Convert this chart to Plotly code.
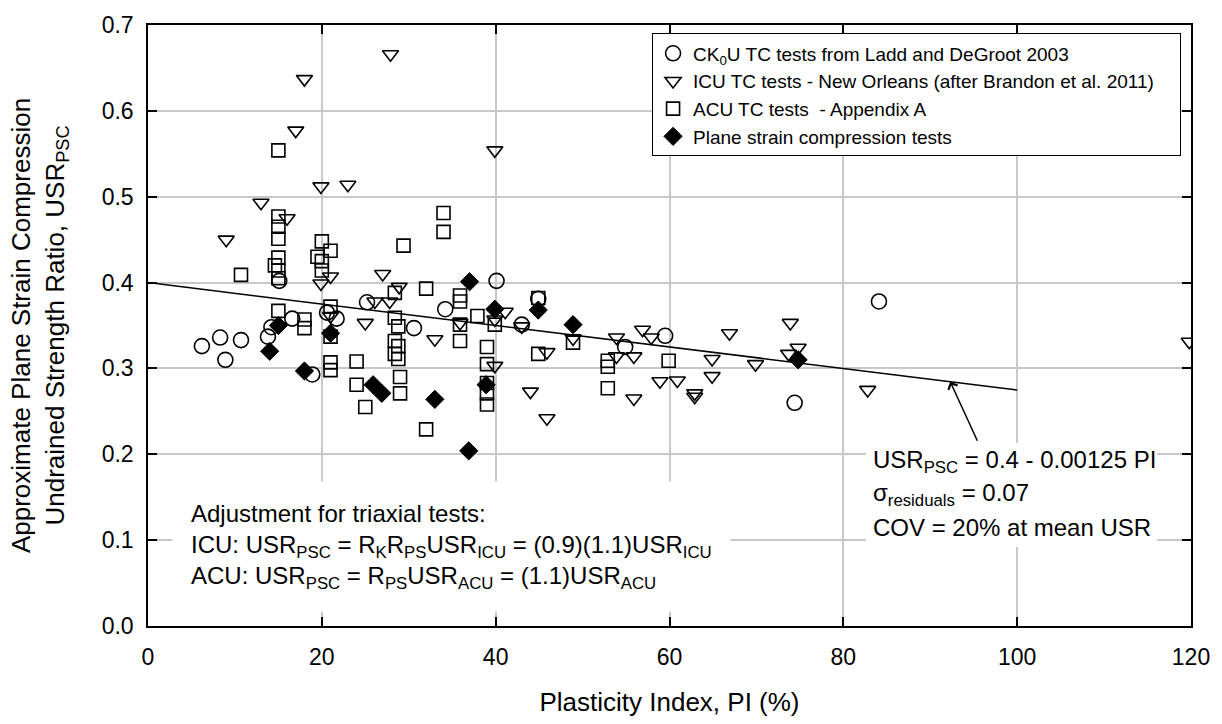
import plotly.graph_objects as go

# ---- data ----
# CK0U TC tests from Ladd and DeGroot 2003 (open circles)
ck0u_pi = [6.2, 8.3, 8.9, 10.7, 13.8, 14.2, 15.1, 16.6, 18.9, 20.6, 21.7, 25.2, 30.6, 34.2,
           40.1, 43.0, 44.9, 54.9, 59.5, 74.4, 84.1]
ck0u_usr = [0.326, 0.336, 0.310, 0.333, 0.337, 0.348, 0.402, 0.358, 0.293, 0.365, 0.358, 0.377, 0.347, 0.369,
            0.402, 0.351, 0.381, 0.325, 0.338, 0.260, 0.378]

# ICU TC tests - New Orleans (open down triangles)
icu_pi = [9.0, 13.0, 16.0, 17.0, 18.0, 19.9, 19.9, 21.0, 21.0, 23.0,
          25.0, 26.1, 27.0, 27.9, 27.8, 28.9, 33.0, 35.9, 39.9, 39.9,
          39.9, 41.1, 43.0, 44.0, 45.9, 45.9, 48.9, 53.9, 53.9, 55.9,
          55.9, 56.9, 57.9, 58.9, 60.9, 62.9, 62.9, 64.9, 64.9, 66.9,
          69.9, 73.7, 73.9, 74.8, 82.8, 119.8]
icu_usr = [0.450, 0.493, 0.475, 0.577, 0.637, 0.512, 0.399, 0.407, 0.361, 0.514,
           0.353, 0.378, 0.410, 0.666, 0.378, 0.395, 0.334, 0.353, 0.554, 0.357,
           0.303, 0.366, 0.349, 0.273, 0.319, 0.242, 0.335, 0.336, 0.314, 0.314,
           0.265, 0.345, 0.336, 0.285, 0.286, 0.271, 0.267, 0.311, 0.291, 0.341,
           0.305, 0.317, 0.353, 0.324, 0.275, 0.331]

# ACU TC tests - Appendix A (open squares)
acu_pi = [10.7, 14.6, 15.0, 15.0, 15.0, 15.0, 15.0, 15.0, 15.0, 15.0,
          18.0, 18.0, 19.5, 20.0, 20.0, 20.0, 21.0, 21.0, 21.0, 21.0,
          21.0, 24.0, 24.0, 25.0, 28.4, 28.4, 28.8, 28.4, 28.8, 28.4,
          28.8, 29.0, 29.0, 29.4, 32.0, 32.0, 34.0, 34.0, 35.9, 35.9,
          35.9, 35.9, 37.9, 39.0, 39.0, 39.0, 39.0, 39.0, 39.9, 44.9,
          44.9, 48.9, 52.9, 52.9, 52.9, 59.9]
acu_usr = [0.409, 0.420, 0.554, 0.477, 0.465, 0.451, 0.429, 0.414, 0.405, 0.367,
           0.357, 0.347, 0.430, 0.448, 0.425, 0.414, 0.437, 0.372, 0.337, 0.307,
           0.298, 0.308, 0.281, 0.255, 0.388, 0.359, 0.349, 0.332, 0.326, 0.317,
           0.311, 0.290, 0.271, 0.443, 0.393, 0.229, 0.481, 0.459, 0.385, 0.378,
           0.351, 0.332, 0.361, 0.325, 0.305, 0.283, 0.271, 0.258, 0.351, 0.382,
           0.317, 0.330, 0.309, 0.302, 0.277, 0.309]

# Plane strain compression tests (filled diamonds)
psc_pi = [14.0, 15.0, 18.0, 21.0, 25.9, 26.9, 33.0, 36.9, 37.0, 38.9, 39.9, 44.9, 48.9, 74.8]
psc_usr = [0.320, 0.350, 0.297, 0.341, 0.281, 0.271, 0.264, 0.204, 0.401, 0.281, 0.369, 0.368, 0.351, 0.310]

# Regression line USR_PSC = 0.4 - 0.00125 PI
fit_pi = [0, 100]
fit_usr = [0.400, 0.275]

# Arrow from the equation text to the line
arrow_tail = (95.5, 0.214)
arrow_tip = (92.3, 0.2846)

x_ticks = [0, 20, 40, 60, 80, 100, 120]
y_ticks = [0.0, 0.1, 0.2, 0.3, 0.4, 0.5, 0.6, 0.7]

eq_lines = ["USR<sub>PSC</sub> = 0.4 - 0.00125 PI",
            "σ<sub>residuals</sub> = 0.07",
            "COV = 20% at mean USR"]
eq_line_y = [0.1914, 0.1526, 0.1149]

FONT = "Arial, 'Liberation Sans', sans-serif"
LW = 1.6
NB = "\u00a0"

fig = go.Figure()

fig.add_trace(go.Scatter(x=fit_pi, y=fit_usr, mode="lines", showlegend=False,
                         line=dict(color="black", width=1.5), hoverinfo="skip"))

fig.add_trace(go.Scatter(x=acu_pi, y=acu_usr, mode="markers", name="ACU TC tests  - Appendix A",
                         legendrank=3,
                         marker=dict(symbol="square-open", size=13, color="black",
                                     line=dict(color="black", width=LW))))
fig.add_trace(go.Scatter(x=icu_pi, y=icu_usr, mode="markers",
                         name="ICU TC tests - New Orleans (after Brandon et al. 2011)" + NB * 4,
                         legendrank=2,
                         marker=dict(symbol="triangle-down-open", size=14, color="black",
                                     line=dict(color="black", width=LW))))
fig.add_trace(go.Scatter(x=ck0u_pi, y=ck0u_usr, mode="markers",
                         name="CK<sub>0</sub>U TC tests from Ladd and DeGroot 2003",
                         legendrank=1,
                         marker=dict(symbol="circle-open", size=15, color="black",
                                     line=dict(color="black", width=LW))))
fig.add_trace(go.Scatter(x=psc_pi, y=psc_usr, mode="markers", name="Plane strain compression tests",
                         legendrank=4,
                         marker=dict(symbol="diamond", size=14, color="black",
                                     line=dict(color="black", width=1))))

axis_common = dict(showline=True, linecolor="black", linewidth=1.5, mirror="ticks",
                   ticks="inside", ticklen=9, tickwidth=1.5, tickcolor="black",
                   showgrid=True, gridcolor="#c8c8c8", gridwidth=1.5, zeroline=False,
                   tickfont=dict(family=FONT, size=23, color="black"))

fig.update_xaxes(range=[0, 120], tickvals=x_ticks, ticklabelstandoff=10,
                 title=dict(text="Plasticity Index, PI (%)", standoff=23,
                            font=dict(family=FONT, size=26, color="black")),
                 **axis_common)
fig.update_yaxes(range=[0, 0.7], tickvals=y_ticks, tickformat=".1f", ticklabelstandoff=8,
                 title=dict(text="Approximate Plane Strain Compression<br>Undrained Strength Ratio, USR<sub>PSC</sub>",
                            standoff=30, font=dict(family=FONT, size=26, color="black")),
                 **axis_common)

# white background behind the equation block (hides gridlines, not points)
fig.add_shape(type="rect", xref="x", yref="y", x0=82.6, x1=116.1, y0=0.092, y1=0.213,
              fillcolor="white", line=dict(width=0), layer="between")

fig.add_annotation(x=arrow_tip[0], y=arrow_tip[1], ax=arrow_tail[0], ay=arrow_tail[1],
                   xref="x", yref="y", axref="x", ayref="y", text="", showarrow=True,
                   arrowhead=4, arrowsize=1.3, arrowwidth=1.5, arrowcolor="black")

for txt, yy in zip(eq_lines, eq_line_y):
    fig.add_annotation(x=83.3, y=yy, xref="x", yref="y", xanchor="left", yanchor="middle",
                       align="left", showarrow=False, borderpad=0,
                       font=dict(family=FONT, size=24, color="black"), text=txt)

fig.add_annotation(x=2.74, y=0.1686, xref="x", yref="y", xanchor="left", yanchor="top",
                   align="left", showarrow=False, bgcolor="white", borderpad=18,
                   font=dict(family=FONT, size=24, color="black"),
                   text="Adjustment for triaxial tests:<br>"
                        "ICU: USR<sub>PSC</sub> = R<sub>K</sub>R<sub>PS</sub>USR<sub>ICU</sub> = (0.9)(1.1)USR<sub>ICU</sub><br>"
                        "ACU: USR<sub>PSC</sub> = R<sub>PS</sub>USR<sub>ACU</sub> = (1.1)USR<sub>ACU</sub>")

fig.update_layout(
    width=1222, height=724,
    margin=dict(l=148, r=25, t=18, b=93),
    paper_bgcolor="white", plot_bgcolor="white",
    font=dict(family=FONT, color="black"),
    showlegend=True,
    legend=dict(x=(1187 - 148) / 1049, xanchor="right", y=0.986, yanchor="top",
                bgcolor="white", bordercolor="black", borderwidth=1,
                font=dict(family=FONT, size=19, color="black"),
                itemsizing="trace"),
)

fig.write_html("out.html")
